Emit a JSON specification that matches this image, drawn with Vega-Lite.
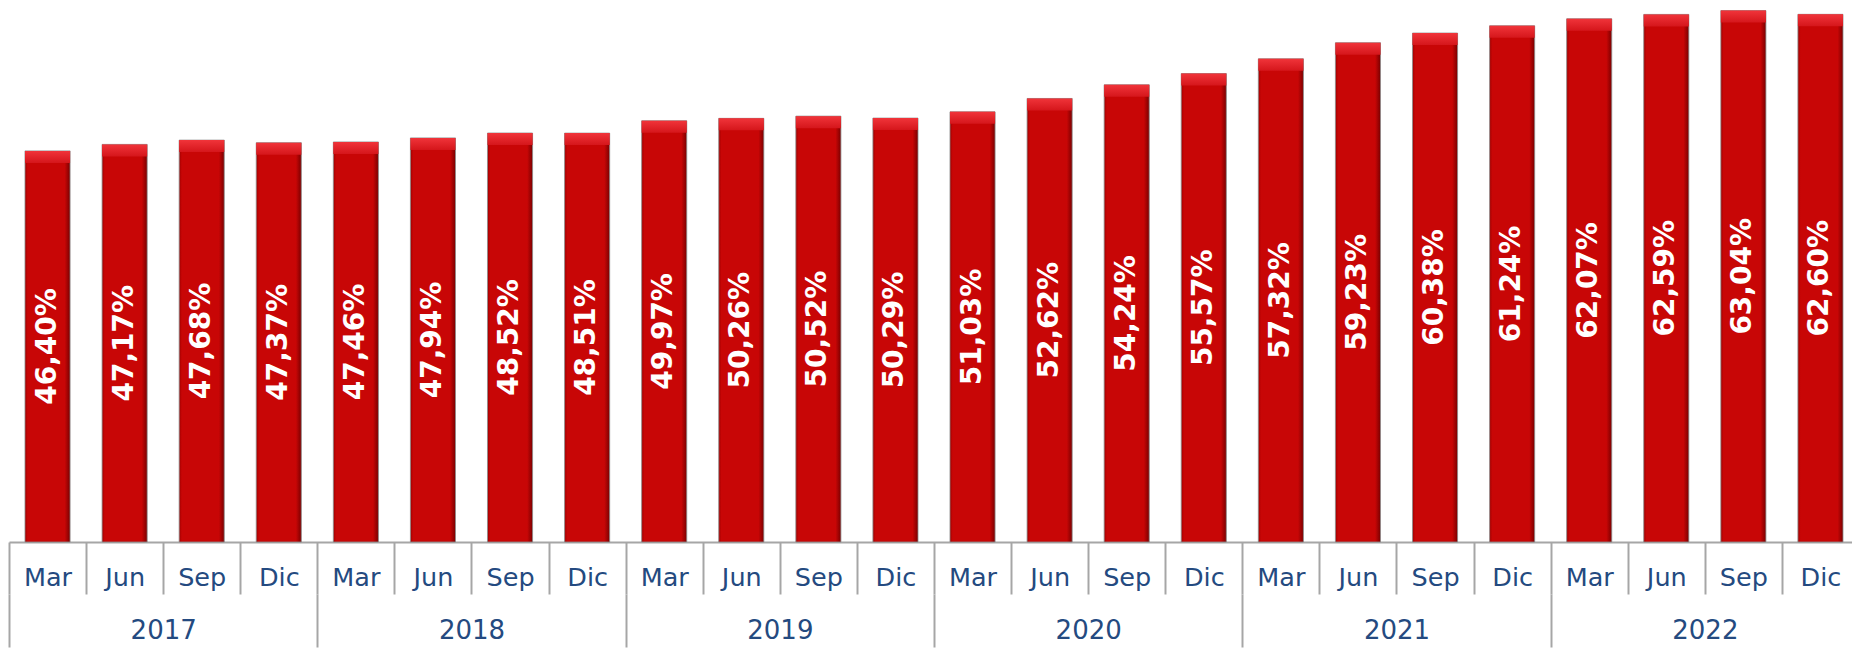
{
  "$schema": "https://vega.github.io/schema/vega-lite/v6.json",
  "width": 1843,
  "height": 542,
  "autosize": {"type": "none"},
  "padding": {"left": 9, "top": 0, "right": 0, "bottom": 107},
  "background": "white",
  "config": {
    "view": {"stroke": null},
    "locale": {"number": {"decimal": ",", "thousands": ".", "grouping": [3], "currency": ["", "€"]}}
  },
  "data": {
    "values": [
      {"period": "2017 Mar", "year": "2017", "value": 0.4640},
      {"period": "2017 Jun", "year": "2017", "value": 0.4717},
      {"period": "2017 Sep", "year": "2017", "value": 0.4768},
      {"period": "2017 Dic", "year": "2017", "value": 0.4737},
      {"period": "2018 Mar", "year": "2018", "value": 0.4746},
      {"period": "2018 Jun", "year": "2018", "value": 0.4794},
      {"period": "2018 Sep", "year": "2018", "value": 0.4852},
      {"period": "2018 Dic", "year": "2018", "value": 0.4851},
      {"period": "2019 Mar", "year": "2019", "value": 0.4997},
      {"period": "2019 Jun", "year": "2019", "value": 0.5026},
      {"period": "2019 Sep", "year": "2019", "value": 0.5052},
      {"period": "2019 Dic", "year": "2019", "value": 0.5029},
      {"period": "2020 Mar", "year": "2020", "value": 0.5103},
      {"period": "2020 Jun", "year": "2020", "value": 0.5262},
      {"period": "2020 Sep", "year": "2020", "value": 0.5424},
      {"period": "2020 Dic", "year": "2020", "value": 0.5557},
      {"period": "2021 Mar", "year": "2021", "value": 0.5732},
      {"period": "2021 Jun", "year": "2021", "value": 0.5923},
      {"period": "2021 Sep", "year": "2021", "value": 0.6038},
      {"period": "2021 Dic", "year": "2021", "value": 0.6124},
      {"period": "2022 Mar", "year": "2022", "value": 0.6207},
      {"period": "2022 Jun", "year": "2022", "value": 0.6259},
      {"period": "2022 Sep", "year": "2022", "value": 0.6304},
      {"period": "2022 Dic", "year": "2022", "value": 0.6260}
    ]
  },
  "layer": [
    {
      "mark": {
        "type": "bar",
        "fill": {"gradient": "linear", "x1": 0, "x2": 1, "y1": 0, "y2": 0,
          "stops": [
            {"offset": 0, "color": "#A00000"},
            {"offset": 0.06, "color": "#C80606"},
            {"offset": 0.88, "color": "#C80606"},
            {"offset": 1, "color": "#7A0000"}
          ]},
        "stroke": "#8C8C8C",
        "strokeWidth": 1,
        "strokeOpacity": 0.8
      },
      "encoding": {
        "x": {"field": "period", "type": "nominal", "sort": null,
          "scale": {"range": [0, 1850], "paddingInner": 0.415, "paddingOuter": 0.2075}, "axis": null},
        "y": {"field": "value", "type": "quantitative", "scale": {"domain": [0, 0.643], "nice": false, "zero": true}, "axis": null}
      }
    },
    {
      "mark": {
        "type": "bar",
        "y2Offset": 12,
        "fill": {"gradient": "linear", "x1": 0, "x2": 0, "y1": 0, "y2": 1,
          "stops": [
            {"offset": 0, "color": "#F0343A"},
            {"offset": 1, "color": "#D5161B"}
          ]}
      },
      "encoding": {
        "x": {"field": "period", "type": "nominal", "sort": null,
          "scale": {"range": [0, 1850], "paddingInner": 0.415, "paddingOuter": 0.2075}, "axis": null},
        "y": {"field": "value", "type": "quantitative", "scale": {"domain": [0, 0.643], "nice": false, "zero": true}, "axis": null},
        "y2": {"field": "value"}
      }
    },
    {
      "mark": {
        "type": "text", "angle": 270, "font": "DejaVu Sans", "fontWeight": "bold",
        "fontSize": 28, "fill": "#FFFFFF", "align": "center", "baseline": "middle"
      },
      "encoding": {
        "x": {"field": "period", "type": "nominal", "sort": null,
          "scale": {"range": [0, 1850], "paddingInner": 0.415, "paddingOuter": 0.2075}, "axis": null},
        "y": {"field": "value", "type": "quantitative", "scale": {"domain": [0, 1.286], "nice": false, "zero": true}, "axis": null},
        "text": {"field": "value", "type": "quantitative", "format": ".2%"}
      }
    },
    {
      "mark": {"type": "rule", "opacity": 0},
      "encoding": {
        "x": {
          "field": "period", "type": "nominal", "sort": null,
          "scale": {"range": [0, 1850], "paddingInner": 0, "paddingOuter": 0},
          "axis": {
            "orient": "bottom", "title": null,
            "labelExpr": "split(datum.label, ' ')[1]",
            "tickBand": "extent", "tickSize": 52, "tickColor": "#A6A6A6", "tickWidth": 2,
            "domainColor": "#A6A6A6", "domainWidth": 2,
            "labelFont": "DejaVu Sans", "labelFontSize": 25.5, "labelColor": "#244A80",
            "labelAngle": 0, "labelBaseline": "middle", "labelAlign": "center",
            "labelPadding": -17, "labelFlush": false, "labelOverlap": false
          }
        }
      }
    },
    {
      "mark": {"type": "rule", "opacity": 0},
      "encoding": {
        "x": {
          "field": "year", "type": "nominal", "sort": null,
          "scale": {"range": [0, 1850], "paddingInner": 0, "paddingOuter": 0},
          "axis": {
            "orient": "bottom", "title": null, "offset": 52, "domain": false,
            "tickBand": "extent", "tickSize": 53, "tickColor": "#A6A6A6", "tickWidth": 2,
            "labelFont": "DejaVu Sans", "labelFontSize": 26, "labelColor": "#244A80",
            "labelAngle": 0, "labelBaseline": "middle", "labelAlign": "center",
            "labelPadding": -17, "labelFlush": false, "labelOverlap": false
          }
        }
      }
    }
  ],
  "resolve": {"scale": {"x": "independent", "y": "independent"}, "axis": {"x": "independent"}}
}
